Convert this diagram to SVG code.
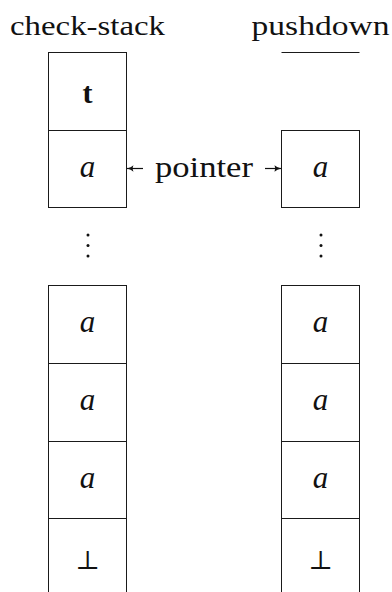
<svg xmlns="http://www.w3.org/2000/svg" width="392" height="592" viewBox="0 0 392 592">
  <style>
    .cell { fill: #ffffff; stroke: #1a1a1a; stroke-width: 1; }
    text { fill: #111; font-family: Liberation Serif, DejaVu Serif, Noto Serif, Times New Roman, Times, serif; }
    .sym { text-anchor: middle; }
    .dot { fill: #111; }
    .conn { stroke: #111; stroke-width: 1.2; fill: none; marker-end: url(#tip); }
  </style>
  <defs>
    <marker id="tip" viewBox="0 0 8 8" refX="7.5" refY="4" markerWidth="8" markerHeight="8" markerUnits="userSpaceOnUse" orient="auto">
      <path d="M1,0.8 Q3.5,3.2 7.8,4 Q3.5,4.8 1,7.2 Q2.6,4 1,0.8 Z" fill="#111"/>
    </marker>
  </defs>

  <!-- column headings -->
  <g id="heading-check-stack">
    <text x="10" y="35" font-size="28" textLength="155" lengthAdjust="spacingAndGlyphs">check-stack</text>
  </g>
  <g id="heading-pushdown">
    <text x="251.5" y="35" font-size="28" textLength="138" lengthAdjust="spacingAndGlyphs">pushdown</text>
    <line x1="281.5" y1="52.5" x2="359.5" y2="52.5" stroke="#1a1a1a" stroke-width="1"/>
  </g>

  <!-- check-stack column -->
  <g id="check-top">
    <rect class="cell" x="48.5" y="52.5" width="78" height="78"/>
    <text class="sym" x="87.5" y="103" font-size="30" font-weight="bold">t</text>
  </g>
  <g id="check-a-pointer">
    <rect class="cell" x="48.5" y="130.5" width="78" height="77"/>
    <text class="sym" x="87.5" y="176.5" font-size="31" font-style="italic">a</text>
  </g>
  <g id="check-dots">
    <circle class="dot" cx="88" cy="235" r="1.5"/>
    <circle class="dot" cx="88" cy="245.5" r="1.5"/>
    <circle class="dot" cx="88" cy="256" r="1.5"/>
  </g>
  <g id="check-a-1">
    <rect class="cell" x="48.5" y="285.5" width="78" height="78"/>
    <text class="sym" x="87.5" y="332" font-size="31" font-style="italic">a</text>
  </g>
  <g id="check-a-2">
    <rect class="cell" x="48.5" y="363.5" width="78" height="78"/>
    <text class="sym" x="87.5" y="409.8" font-size="31" font-style="italic">a</text>
  </g>
  <g id="check-a-3">
    <rect class="cell" x="48.5" y="441.5" width="78" height="77"/>
    <text class="sym" x="87.5" y="487.5" font-size="31" font-style="italic">a</text>
  </g>
  <g id="check-bottom">
    <rect class="cell" x="48.5" y="518.5" width="78" height="78"/>
    <text class="sym" x="87.5" y="568.5" font-size="26">⊥</text>
  </g>

  <!-- pushdown column -->
  <g id="push-a-pointer">
    <rect class="cell" x="281.5" y="130.5" width="78" height="77"/>
    <text class="sym" x="320.5" y="176.5" font-size="31" font-style="italic">a</text>
  </g>
  <g id="push-dots">
    <circle class="dot" cx="321" cy="235" r="1.5"/>
    <circle class="dot" cx="321" cy="245.5" r="1.5"/>
    <circle class="dot" cx="321" cy="256" r="1.5"/>
  </g>
  <g id="push-a-1">
    <rect class="cell" x="281.5" y="285.5" width="78" height="78"/>
    <text class="sym" x="320.5" y="332" font-size="31" font-style="italic">a</text>
  </g>
  <g id="push-a-2">
    <rect class="cell" x="281.5" y="363.5" width="78" height="78"/>
    <text class="sym" x="320.5" y="409.8" font-size="31" font-style="italic">a</text>
  </g>
  <g id="push-a-3">
    <rect class="cell" x="281.5" y="441.5" width="78" height="77"/>
    <text class="sym" x="320.5" y="487.5" font-size="31" font-style="italic">a</text>
  </g>
  <g id="push-bottom">
    <rect class="cell" x="281.5" y="518.5" width="78" height="78"/>
    <text class="sym" x="320.5" y="568.5" font-size="26">⊥</text>
  </g>

  <!-- pointer label between the two columns -->
  <g id="pointer">
    <text x="155" y="176.5" font-size="29" textLength="98" lengthAdjust="spacingAndGlyphs">pointer</text>
  </g>

  <!-- pointer arrows -->
  <g id="connectors">
    <line class="conn" x1="143" y1="168.5" x2="127" y2="168.5"/>
    <line class="conn" x1="265" y1="168.5" x2="281" y2="168.5"/>
  </g>
</svg>
